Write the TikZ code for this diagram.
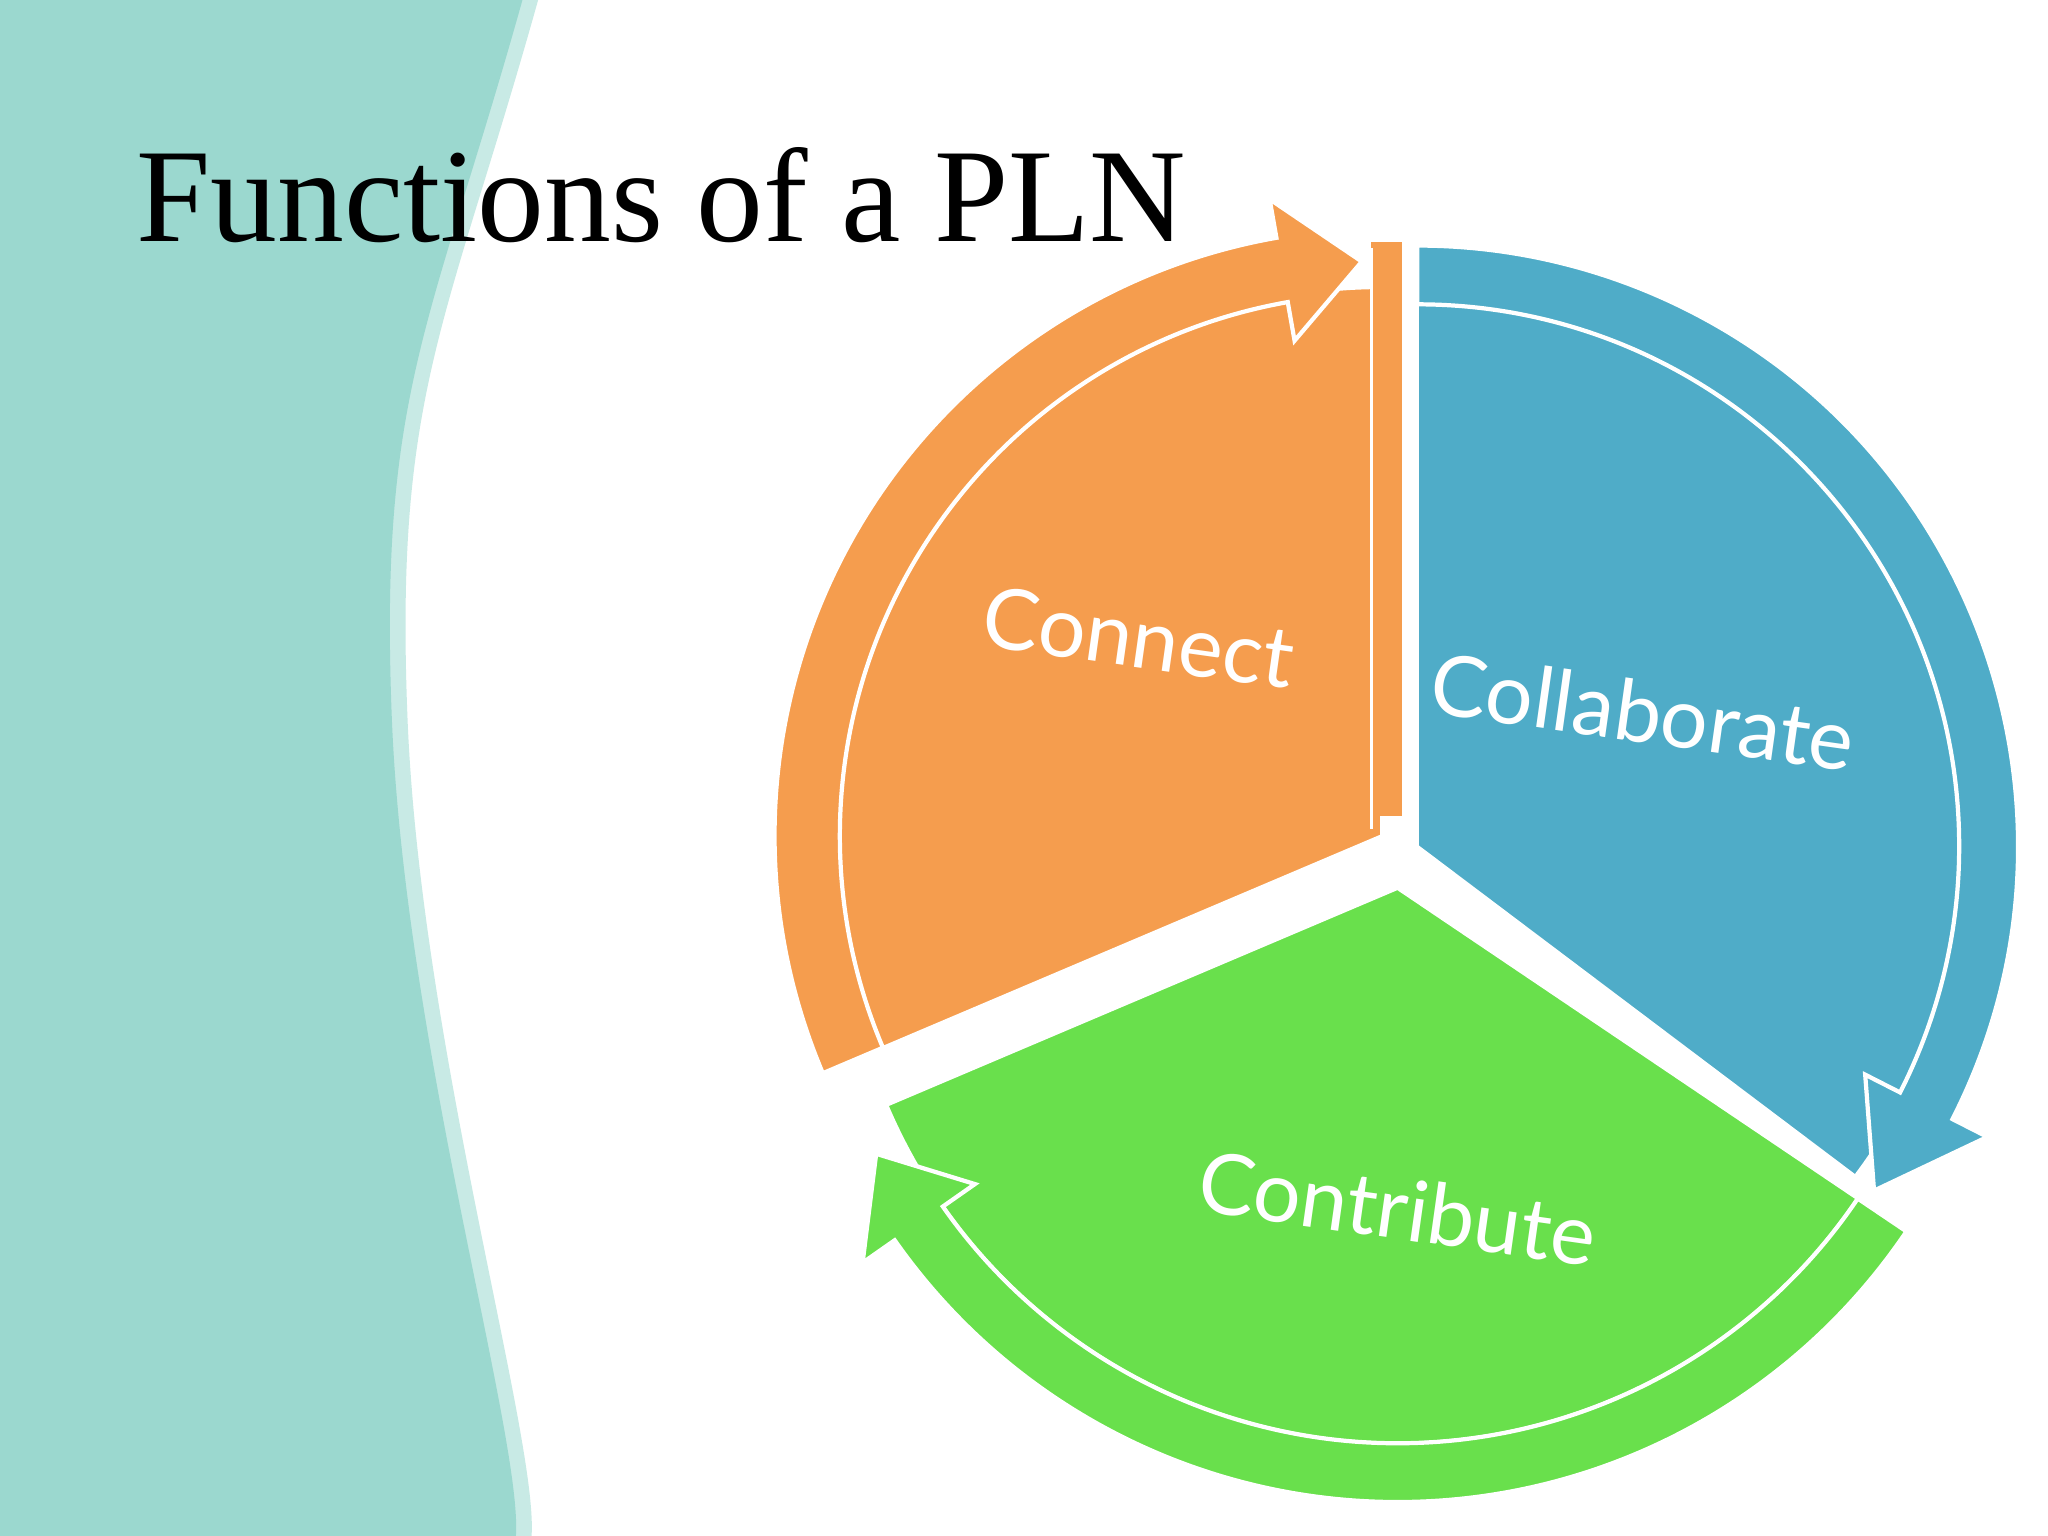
\documentclass[tikz,border=0pt]{standalone}
\usepackage{fontspec}
\setmainfont{Liberation Serif}
\newfontfamily\lblfnt{Lato}
\usetikzlibrary{calc}
\definecolor{teal1}{HTML}{9BD8CF}
\definecolor{teal2}{HTML}{C8EAE5}
\definecolor{orng}{HTML}{F59D4E}
\definecolor{blu}{HTML}{4FACC8}
\definecolor{grn}{HTML}{69E04C}
\tikzset{ring/.style={fill=#1, draw=white, line width=1.2pt, line join=miter},
  lbl/.style={font=\lblfnt\fontsize{24}{24}\selectfont, text=white, rotate=-8}}
\begin{document}
\begin{tikzpicture}[x=0.013061cm,y=-0.013061cm]
\useasboundingbox (0,0) rectangle (1568,1176);
\fill[white] (0,0) rectangle (1568,1176);
% background band
\fill[teal2] (0,0) -- (412,0) .. controls (342,250) and (302,300) .. (312,550) .. controls (322,800) and (412,1100) .. (407,1176) -- (0,1176) -- cycle;
\fill[teal1] (0,0) -- (400,0) .. controls (330,250) and (290,300) .. (300,550) .. controls (310,800) and (400,1100) .. (395,1176) -- (0,1176) -- cycle;
% centers
\coordinate (co) at (1058,640);
\coordinate (cb) at (1085,648);
\coordinate (cg) at (1070,680);
% orange
\fill[orng, draw=white, line width=1pt] (co) -- ++(-90:420) arc[start angle=-90, end angle=-203, radius=420] -- cycle;
\fill[orng] (1050,185) rectangle (1075,625);
\draw[white, line width=1pt] (1050,190) -- (1050,635) (1075,178) -- (1075,625);
\path[ring=orng] ($(co)+(-203:415)$) arc[start angle=-203, end angle=-100, radius=415]
  -- ($(co)+(-100:385)$) -- ($(co)+(-92:440)$) -- ($(co)+(-100:495)$) -- ($(co)+(-100:465)$)
  arc[start angle=-100, end angle=-203, radius=465] -- cycle;
% blue
\fill[blu, draw=white, line width=1pt] (cb) -- ++(-90:420) arc[start angle=-90, end angle=37, radius=420] -- cycle;
\path[ring=blu] ($(cb)+(-90:415)$) arc[start angle=-90, end angle=27, radius=415]
  -- ($(cb)+(27:385)$) -- ($(cb)+(37:438)$) -- ($(cb)+(27:490)$) -- ($(cb)+(27:460)$)
  arc[start angle=27, end angle=-90, radius=460] -- cycle;
% green
\fill[grn, draw=white, line width=1pt] (cg) -- ++(34:425) arc[start angle=34, end angle=157, radius=425] -- cycle;
\path[ring=grn] ($(cg)+(34:425)$) arc[start angle=34, end angle=145, radius=425]
  -- ($(cg)+(145:395)$) -- ($(cg)+(153:448)$) -- ($(cg)+(145:500)$) -- ($(cg)+(145:470)$)
  arc[start angle=145, end angle=34, radius=470] -- cycle;
\draw[white, line width=3pt] ($(cg)+(0,-12)$) -- ++(34:420);
% labels
\node[lbl] (l1) at (872,488) {Connect};
\node[lbl] (l2) at (1258,545) {Collaborate};
\node[lbl] (l3) at (1070,925) {Contribute};
\node[anchor=base west, font=\fontsize{38}{38}\selectfont] (title) at (95,185) {Functions of a PLN};
\end{tikzpicture}
\end{document}
